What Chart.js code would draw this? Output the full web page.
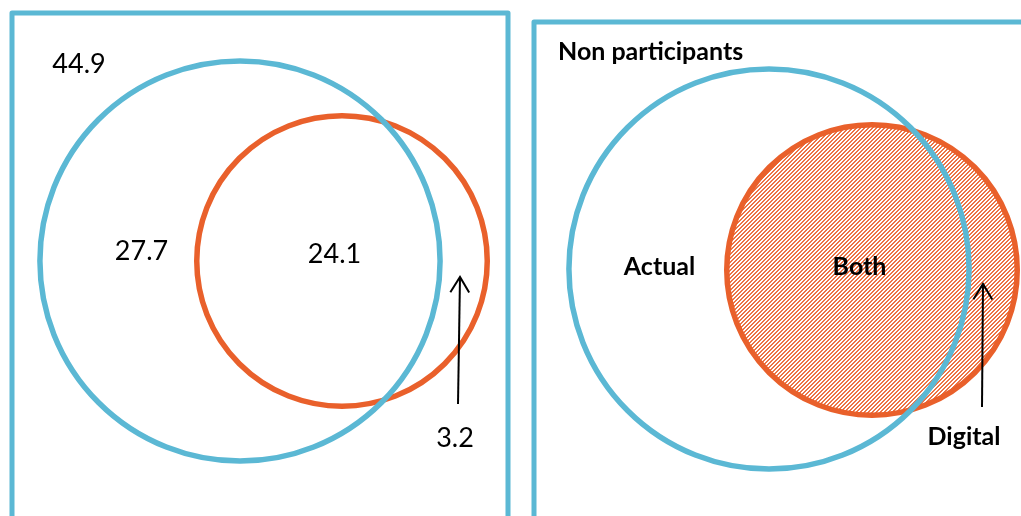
<!DOCTYPE html>
<html>
<head>
<meta charset="utf-8">
<script src="https://cdn.jsdelivr.net/npm/chart.js@4.4.1/dist/chart.umd.min.js"></script>
<style>
  html, body { margin: 0; padding: 0; background: #fff; }
  canvas { display: block; }
</style>
</head>
<body>
<canvas id="venn" width="1021" height="516"></canvas>
<script>
// regions of the diagram (same order in both panels)
const regionNames = ['Non participants', 'Actual', 'Both', 'Digital'];
const regionValues = [44.9, 27.7, 24.1, 3.2];
const setNames = ['Actual', 'Digital'];
// set totals: Actual = actual only + both, Digital = both + digital only
const setSizes = [regionValues[1] + regionValues[2], regionValues[2] + regionValues[3]];

// layout, in plot units (the axes run 0..1021 and 0..516)
const radiusPerRootUnit = 27.8;
const leftCentres = [[240, 261], [342, 261]];
const rightCentres = [[769, 269], [872, 270]];
const valueLabelPos = [[79, 73], [141.5, 260], [334.5, 263], [455, 447]];
const nameLabelPos = [[558, 60], [659.5, 275], [859.5, 275], [964, 445]];
const arrowLeft = [[458, 404], [460, 277]];
const arrowRight = [[982, 407], [983, 284]];
const frames = [[12, 13, 508, 540], [534, 22, 1045, 540]];

const BLUE = '#5BB8D4';
const ORANGE = '#E9602B';

// crisp diagonal stripes (///) for the "Digital" set on the right
function hatchPattern() {
    const s = 4;
    const c = document.createElement('canvas');
    c.width = s;
    c.height = s;
    const g = c.getContext('2d');
    g.fillStyle = '#EC7446';
    for (let row = 0; row < s; row++) {
        const col = s - 1 - row;
        g.fillRect(col, row, 1, 1);
        g.fillRect((col + 1) % s, row, 1, 1);
    }
    return g.createPattern(c, 'repeat');
}
const hatch = hatchPattern();

function toPoints(pairs) {
    return pairs.map(p => ({ x: p[0], y: p[1], r: 1 }));
}

const framePlugin = {
    id: 'frames',
    beforeDatasetsDraw(chart) {
        const { ctx, scales: { x, y } } = chart;
        ctx.save();
        ctx.strokeStyle = BLUE;
        ctx.lineWidth = 5;
        ctx.lineJoin = 'round';
        frames.forEach(f => {
            const x0 = x.getPixelForValue(f[0]), y0 = y.getPixelForValue(f[1]);
            const x1 = x.getPixelForValue(f[2]), y1 = y.getPixelForValue(f[3]);
            ctx.strokeRect(x0, y0, x1 - x0, y1 - y0);
        });
        ctx.restore();
    }
};

const labelPlugin = {
    id: 'vennLabels',
    afterDatasetsDraw(chart) {
        const { ctx, scales: { x, y } } = chart;
        ctx.save();
        ctx.fillStyle = '#000';
        ctx.textBaseline = 'alphabetic';

        // arrow heads at the last point of each arrow line
        chart.data.datasets.forEach((ds, i) => {
            if (!ds.isArrow) return;
            const pts = chart.getDatasetMeta(i).data;
            const a = pts[pts.length - 2], b = pts[pts.length - 1];
            const ang = Math.atan2(b.y - a.y, b.x - a.x);
            const len = 18, spread = 0.55;
            ctx.strokeStyle = '#000';
            ctx.lineWidth = 2;
            ctx.beginPath();
            ctx.moveTo(b.x - len * Math.cos(ang - spread), b.y - len * Math.sin(ang - spread));
            ctx.lineTo(b.x, b.y);
            ctx.lineTo(b.x - len * Math.cos(ang + spread), b.y - len * Math.sin(ang + spread));
            ctx.stroke();
        });

        // left panel: values
        ctx.font = '27px Lato';
        ctx.textAlign = 'center';
        regionValues.forEach((v, i) => {
            const p = valueLabelPos[i];
            ctx.fillText(v.toFixed(1), x.getPixelForValue(p[0]), y.getPixelForValue(p[1]));
        });

        // right panel: names
        ctx.font = 'bold 25px Lato';
        regionNames.forEach((name, i) => {
            const p = nameLabelPos[i];
            ctx.textAlign = i === 0 ? 'left' : 'center';
            ctx.fillText(name, x.getPixelForValue(p[0]), y.getPixelForValue(p[1]));
        });
        ctx.restore();
    }
};

const chart = new Chart(document.getElementById('venn'), {
    type: 'bubble',
    data: {
        datasets: [
            {
                label: setNames[0],
                data: toPoints([leftCentres[0], rightCentres[0]]),
                backgroundColor: 'rgba(0,0,0,0)',
                borderColor: BLUE,
                borderWidth: 5.5,
                order: 0,
                clip: false
            },
            {
                label: setNames[1],
                data: toPoints([leftCentres[1], rightCentres[1]]),
                backgroundColor: ['rgba(0,0,0,0)', hatch],
                borderColor: ORANGE,
                borderWidth: 5.5,
                order: 1,
                clip: false
            },
            {
                type: 'line',
                isArrow: true,
                data: toPoints(arrowLeft),
                borderColor: '#000',
                borderWidth: 2,
                pointRadius: 0,
                order: -1,
                clip: false
            },
            {
                type: 'line',
                isArrow: true,
                data: toPoints(arrowRight),
                borderColor: '#000',
                borderWidth: 2,
                pointRadius: 0,
                order: -1,
                clip: false
            }
        ]
    },
    options: {
        responsive: false,
        animation: false,
        events: [],
        layout: { padding: 0, autoPadding: false },
        scales: {
            x: { type: 'linear', min: 0, max: 1021, display: false },
            y: { type: 'linear', min: 0, max: 516, reverse: true, display: false }
        },
        plugins: {
            legend: { display: false },
            tooltip: { enabled: false }
        }
    },
    plugins: [framePlugin, labelPlugin]
});

// circle area follows the set size; convert radius to pixels through the x scale
const xs = chart.scales.x;
[0, 1].forEach(s => {
    const rUnits = radiusPerRootUnit * Math.sqrt(setSizes[s]);
    const rPx = xs.getPixelForValue(rUnits) - xs.getPixelForValue(0);
    chart.data.datasets[s].data.forEach(pt => { pt.r = rPx; });
});
chart.update();
</script>
</body>
</html>
